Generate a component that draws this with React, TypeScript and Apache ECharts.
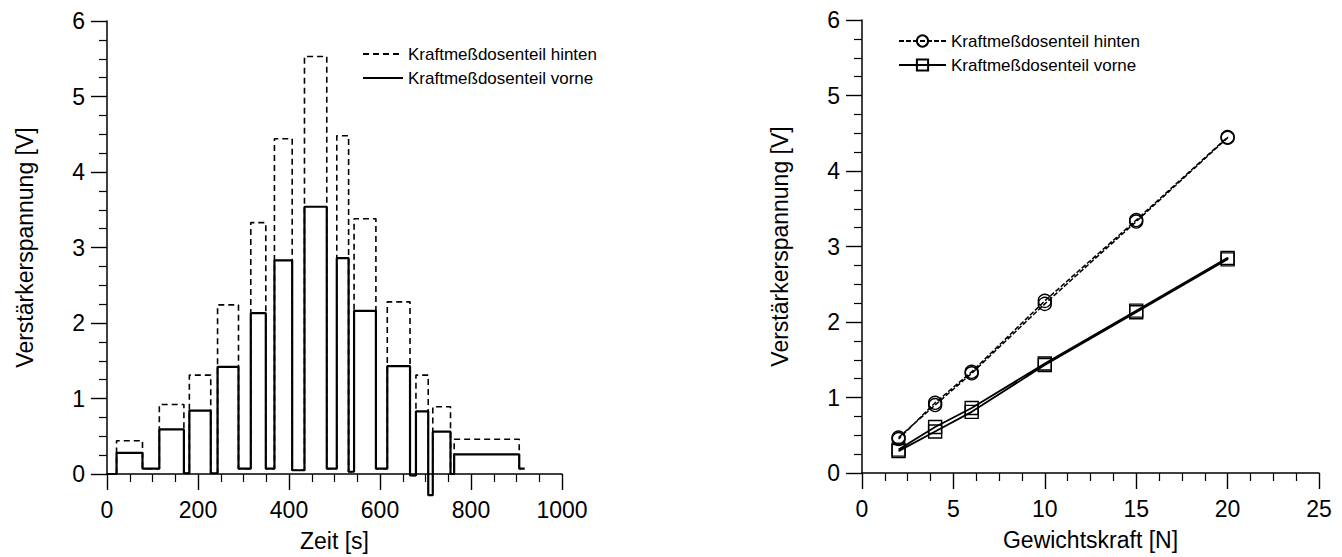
import React, { useEffect, useRef } from "react";
import * as echarts from "echarts";

// ---- Left chart: time series (Zeit [s] vs Verstärkerspannung [V])
const stepStart = [21, 115, 181, 243, 316, 368, 434, 505, 543, 616, 679, 716, 763];
const stepEnd = [78, 169, 228, 289, 349, 407, 483, 531, 591, 666, 706, 755, 906];
const vorneLevel = [0.28, 0.59, 0.84, 1.42, 2.13, 2.83, 3.54, 2.86, 2.16, 1.43, 0.83, 0.56, 0.26];
const hintenLevel = [0.44, 0.92, 1.31, 2.24, 3.33, 4.44, 5.53, 4.48, 3.38, 2.28, 1.31, 0.89, 0.46];
const vorneGapAfter = [0.07, 0.01, 0.01, 0.07, 0.07, 0.05, 0.07, 0.03, 0.07, -0.02, -0.28, 0.0, 0.07];
const hintenGapAfter = [0.07, 0.01, 0.01, 0.07, 0.07, 0.05, 0.07, 0.03, 0.07, -0.02, 0.0, 0.0, 0.07];
const startTime = 0;
const startLevel = 0;
const endTime = 918;

// ---- Right chart: calibration (Gewichtskraft [N] vs Verstärkerspannung [V])
const forces = [2, 4, 6, 10, 15, 20];
const hintenUp = [0.47, 0.9, 1.32, 2.24, 3.33, 4.44];
const hintenDown = [0.45, 0.93, 1.34, 2.28, 3.35, 4.45];
const vorneUp = [0.29, 0.55, 0.81, 1.43, 2.13, 2.83];
const vorneDown = [0.31, 0.61, 0.86, 1.45, 2.15, 2.85];

const NAME_HINTEN = "Kraftmeßdosenteil hinten";
const NAME_VORNE = "Kraftmeßdosenteil vorne";
const FONT = "'Liberation Sans', Arial, Helvetica, sans-serif";

function buildSteps(levels: number[], gaps: number[]): number[][] {
  const pts: number[][] = [[startTime, startLevel]];
  let prev = startLevel;
  for (let i = 0; i < levels.length; i++) {
    pts.push([stepStart[i], prev], [stepStart[i], levels[i]], [stepEnd[i], levels[i]], [stepEnd[i], gaps[i]]);
    prev = gaps[i];
  }
  pts.push([endTime, prev]);
  return pts;
}

function loop(up: number[], down: number[]): number[][] {
  const pts: number[][] = forces.map((f, i) => [f, up[i]]);
  for (let i = forces.length - 1; i >= 0; i--) pts.push([forces[i], down[i]]);
  return pts;
}

function axisCommon(min: number, max: number, interval: number, name: string, isY: boolean) {
  return {
    type: "value",
    min,
    max,
    interval,
    name,
    nameLocation: "middle",
    nameGap: isY ? 71 : 55,
    nameRotate: isY ? 90 : 0,
    nameTextStyle: { fontFamily: FONT, fontSize: 23, color: "#000" },
    axisLine: { show: true, onZero: false, lineStyle: { color: "#000", width: 1.5 } },
    axisTick: { show: true, inside: false, length: 16, lineStyle: { color: "#000", width: 1.4 } },
    minorTick: { show: true, splitNumber: 4, length: 8, lineStyle: { color: "#000", width: 1.2 } },
    splitLine: { show: false },
    minorSplitLine: { show: false },
    axisLabel: {
      fontFamily: FONT,
      fontSize: 23,
      color: "#000",
      margin: isY ? 22 : 24,
      formatter: (v: number) => String(v),
    },
  };
}

function legendCommon(left: number, top: number, itemWidth: number, hideSymbol: boolean) {
  const lg: any = {
    orient: "vertical",
    left,
    top,
    itemWidth,
    itemHeight: 14,
    itemGap: 6,
    textStyle: { fontFamily: FONT, fontSize: 17, color: "#000", lineHeight: 18 },
    data: [NAME_HINTEN, NAME_VORNE],
  };
  if (hideSymbol) lg.itemStyle = { color: "rgba(0,0,0,0)", borderWidth: 0, opacity: 0 };
  return lg;
}

function leftOption() {
  return {
    animation: false,
    backgroundColor: "#fff",
    grid: { left: 107, top: 21, width: 455, height: 453 },
    legend: legendCommon(357, 40, 40, true),
    xAxis: axisCommon(0, 1000, 200, "Zeit [s]", false),
    yAxis: axisCommon(0, 6, 1, "Verstärkerspannung [V]", true),
    series: [
      {
        name: NAME_HINTEN,
        type: "line",
        data: buildSteps(hintenLevel, hintenGapAfter),
        symbol: "none",
        clip: false,
        lineStyle: { color: "#000", width: 1.6, type: [6, 4] },
        itemStyle: { color: "#000" },
      },
      {
        name: NAME_VORNE,
        type: "line",
        data: buildSteps(vorneLevel, vorneGapAfter),
        symbol: "none",
        clip: false,
        lineStyle: { color: "#000", width: 2.2 },
        itemStyle: { color: "#000" },
      },
    ],
  };
}

function rightOption() {
  return {
    animation: false,
    backgroundColor: "#fff",
    grid: { left: 191, top: 20, width: 457, height: 453 },
    legend: legendCommon(222, 27, 47, false),
    xAxis: axisCommon(0, 25, 5, "Gewichtskraft [N]", false),
    yAxis: axisCommon(0, 6, 1, "Verstärkerspannung [V]", true),
    series: [
      {
        name: NAME_HINTEN,
        type: "line",
        data: loop(hintenUp, hintenDown),
        symbol: "circle",
        symbolSize: 13,
        showSymbol: true,
        lineStyle: { color: "#000", width: 1.5, type: [5, 2] },
        itemStyle: { color: "rgba(255,255,255,0)", borderColor: "#000", borderWidth: 1.4 },
      },
      {
        name: NAME_VORNE,
        type: "line",
        data: loop(vorneUp, vorneDown),
        symbol: "rect",
        symbolSize: 13,
        showSymbol: true,
        lineStyle: { color: "#000", width: 1.8 },
        itemStyle: { color: "rgba(255,255,255,0)", borderColor: "#000", borderWidth: 1.4 },
      },
    ],
  };
}

function Chart({ option, left }: { option: any; left: number }) {
  const ref = useRef<HTMLDivElement>(null);
  useEffect(() => {
    if (!ref.current) return;
    const chart = echarts.init(ref.current, undefined, { renderer: "svg" });
    chart.setOption(option);
    return () => chart.dispose();
  }, [option]);
  return (
    <div
      ref={ref}
      style={{ position: "absolute", left, top: 0, width: 671, height: 557 }}
    />
  );
}

const LEFT_OPT = leftOption();
const RIGHT_OPT = rightOption();

export default function App() {
  return (
    <div style={{ position: "fixed", left: 0, top: 0, width: 1342, height: 557, background: "#fff" }}>
      <Chart option={LEFT_OPT} left={0} />
      <Chart option={RIGHT_OPT} left={671} />
    </div>
  );
}
